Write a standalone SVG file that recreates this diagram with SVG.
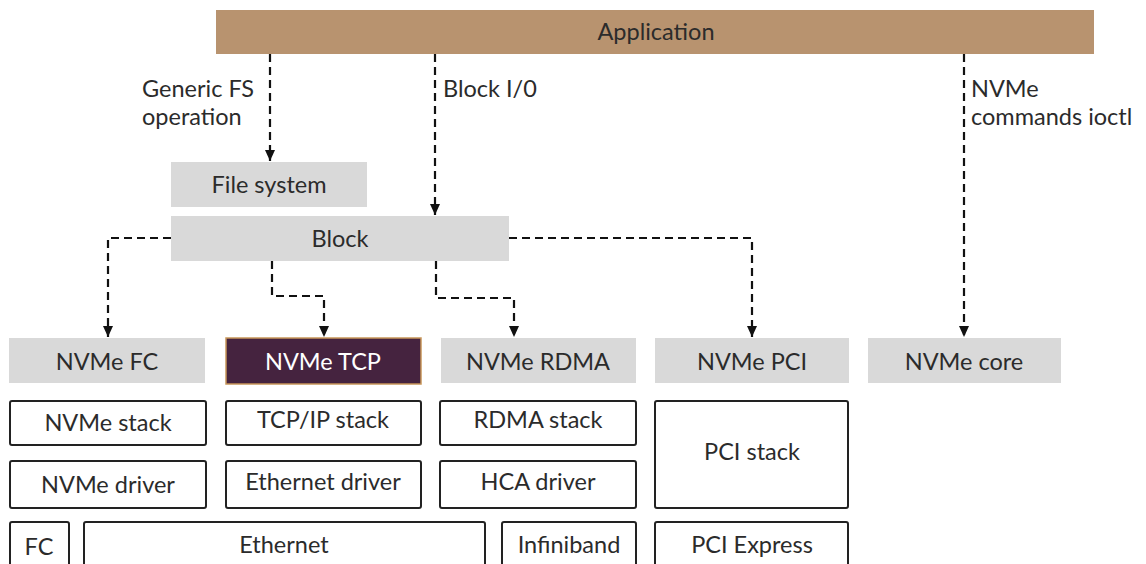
<svg xmlns="http://www.w3.org/2000/svg" width="1146" height="564" viewBox="0 0 1146 564">
<style>
text{font-family:Lato,"Liberation Sans",sans-serif;font-size:23.5px;fill:#2b2b2b;}
.c{text-anchor:middle;}
.grey{fill:#d9d9d9;}
.box{fill:#fff;stroke:#222;stroke-width:2;}
.edge{fill:none;stroke:#111;stroke-width:2.2;stroke-dasharray:8 5;}
</style>
<defs>
<marker id="ah" markerWidth="12" markerHeight="14" refX="11" refY="6" orient="auto" markerUnits="userSpaceOnUse">
<path d="M0,1 L11,6 L0,11 Z" fill="#111"/>
</marker>
</defs>
<rect width="1146" height="564" fill="#fff"/>
<g id="application"><rect x="216" y="10" width="878" height="44" fill="#b8936f"/><text class="c" x="656" y="40">Application</text></g>
<g id="filesystem"><rect class="grey" x="171" y="162" width="196" height="45"/><text class="c" x="269" y="193">File system</text></g>
<g id="block"><rect class="grey" x="171" y="216" width="338" height="45"/><text class="c" x="340" y="247">Block</text></g>
<g id="nvme-fc"><rect class="grey" x="9" y="338" width="196" height="45"/><text class="c" x="107" y="370">NVMe FC</text></g>
<g id="nvme-tcp"><rect x="226" y="338" width="195" height="46" fill="#45233f" stroke="#c8965a" stroke-width="1.5"/><text class="c" x="323" y="370" style="fill:#fff">NVMe TCP</text></g>
<g id="nvme-rdma"><rect class="grey" x="441" y="338" width="195" height="45"/><text class="c" x="538" y="370">NVMe RDMA</text></g>
<g id="nvme-pci"><rect class="grey" x="655" y="338" width="194" height="45"/><text class="c" x="752" y="370">NVMe PCI</text></g>
<g id="nvme-core"><rect class="grey" x="868" y="338" width="193" height="45"/><text class="c" x="964" y="370">NVMe core</text></g>
<g id="nvme-stack"><rect class="box" x="10" y="401" width="196" height="44" rx="2"/><text class="c" x="108" y="431">NVMe stack</text></g>
<g id="tcpip-stack"><rect class="box" x="226" y="401" width="195" height="44" rx="2"/><text class="c" x="323" y="428">TCP/IP stack</text></g>
<g id="rdma-stack"><rect class="box" x="440" y="401" width="196" height="44" rx="2"/><text class="c" x="538" y="428">RDMA stack</text></g>
<g id="pci-stack"><rect class="box" x="655" y="401" width="193" height="107" rx="2"/><text class="c" x="752" y="460">PCI stack</text></g>
<g id="nvme-driver"><rect class="box" x="10" y="461" width="196" height="47" rx="2"/><text class="c" x="108" y="493">NVMe driver</text></g>
<g id="ethernet-driver"><rect class="box" x="226" y="461" width="195" height="47" rx="2"/><text class="c" x="323" y="490">Ethernet driver</text></g>
<g id="hca-driver"><rect class="box" x="440" y="461" width="196" height="47" rx="2"/><text class="c" x="538" y="490">HCA driver</text></g>
<g id="fc"><rect class="box" x="10" y="522" width="59" height="50" rx="2"/><text class="c" x="39" y="555">FC</text></g>
<g id="ethernet"><rect class="box" x="84" y="522" width="401" height="50" rx="2"/><text class="c" x="284" y="553">Ethernet</text></g>
<g id="infiniband"><rect class="box" x="502" y="522" width="134" height="50" rx="2"/><text class="c" x="569" y="553">Infiniband</text></g>
<g id="pci-express"><rect class="box" x="655" y="522" width="193" height="50" rx="2"/><text class="c" x="752" y="553">PCI Express</text></g>
<g id="connectors">
<path class="edge" d="M270,54 V161" marker-end="url(#ah)"/>
<path class="edge" d="M435,54 V215" marker-end="url(#ah)"/>
<path class="edge" d="M964,54 V337" marker-end="url(#ah)"/>
<path class="edge" d="M171,238 H108 V337" marker-end="url(#ah)"/>
<path class="edge" d="M509,238 H752 V337" marker-end="url(#ah)"/>
<path class="edge" d="M272,261 V296 H324 V337" marker-end="url(#ah)"/>
<path class="edge" d="M436,261 V298 H514 V337" marker-end="url(#ah)"/>
<text x="142" y="97">Generic FS</text>
<text x="142" y="125">operation</text>
<text x="443" y="97">Block I/0</text>
<text x="971" y="97">NVMe</text>
<text x="971" y="125">commands ioctl</text>
</g>
</svg>
